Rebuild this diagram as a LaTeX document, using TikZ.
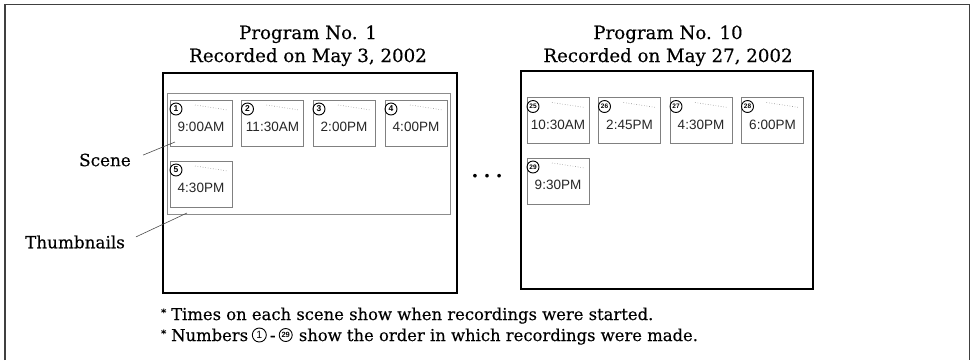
\documentclass[tikz,border=0pt]{standalone}
\usepackage{fontspec}
\setmainfont{DejaVu Serif}[UprightFeatures={FakeBold=0.35}]
\newfontfamily\thumbfont{Liberation Sans}
\begin{document}
\begin{tikzpicture}[x=1pt,y=-1pt,
 frame/.style={draw=black!75,line width=1.6pt},
 progbox/.style={draw=black,line width=1.3pt},
 innerbox/.style={draw=black!45,line width=1pt},
 thumb/.style={draw=black!50,line width=0.9pt,minimum width=62pt,minimum height=46pt,inner sep=0pt},
 timetxt/.style={font=\thumbfont\fontsize{13.5}{14}\selectfont,text=black!85,inner sep=0pt},
 numc/.style={circle,draw=black,line width=0.9pt,minimum size=12pt,inner sep=0pt,font=\thumbfont\bfseries\fontsize{8.5}{8.5}\selectfont},
 numcc/.style={numc,font=\thumbfont\bfseries\fontsize{6.5}{6.5}\selectfont},
 scenedots/.style={draw=black!45,dotted,line width=0.6pt},
 titletxt/.style={font=\fontsize{18.2}{21}\selectfont,anchor=base,inner sep=0pt},
 sidelabel/.style={font=\fontsize{16.8}{20}\selectfont,inner sep=0pt},
 foot/.style={font=\fontsize{16.4}{20}\selectfont,anchor=base west,inner sep=0pt},
 leader/.style={draw=black!70,line width=0.6pt},
 footc/.style={circle,draw=black,line width=0.9pt,minimum size=14pt,inner sep=0pt,font=\thumbfont\fontsize{10.5}{10.5}\selectfont},
 footcc/.style={footc,minimum size=13pt,font=\thumbfont\bfseries\fontsize{7.5}{7.5}\selectfont}
]
\newcommand\thumbbox[6]{%
 \node[thumb] (#1) at (#2,#3) {};
 \node[#5] (#1n) at (#2-25,#3-14) {#4};
 \node[timetxt] (#1t) at (#2,#3+4) {#6};
 \draw[scenedots] (#2-6,#3-18) -- (#2+27,#3-13);
}
\newcommand\fstar{\raisebox{4pt}{\fontsize{10}{10}\selectfont *}}
\useasboundingbox (0,0) rectangle (971,360);
\draw[frame] (5,360) -- (5,4.5) -- (969.5,4.5) -- (969.5,360);

% Program 1
\node[titletxt] (p1a) at (308,39) {Program No. 1};
\node[titletxt] (p1b) at (308,62) {Recorded on May 3, 2002};
\draw[progbox] (163,73) rectangle (457,293);
\draw[innerbox] (167,93) rectangle (450,214);
\thumbbox{t1}{201}{123}{1}{numc}{9:00AM}
\thumbbox{t2}{272.5}{123}{2}{numc}{11:30AM}
\thumbbox{t3}{344}{123}{3}{numc}{2:00PM}
\thumbbox{t4}{416}{123}{4}{numc}{4:00PM}
\thumbbox{t5}{201}{184}{5}{numc}{4:30PM}

% labels
\node[sidelabel] (scene) at (105,160) {Scene};
\node[sidelabel] (thumbs) at (75,242) {Thumbnails};
\coordinate (sceneTip) at (175,142);
\coordinate (thumbTip) at (187,213);
\draw[leader,shorten <=13pt] (scene.east) -- (sceneTip);
\draw[leader,shorten <=12pt] (thumbs.east) -- (thumbTip);

% dots
\node[font=\fontsize{12}{12}\selectfont,inner sep=0pt] (dots) at (487,177) {•\hspace{5pt}•\hspace{5pt}•};

% Program 10
\node[titletxt] (p10a) at (668,39) {Program No. 10};
\node[titletxt] (p10b) at (668,62) {Recorded on May 27, 2002};
\draw[progbox] (521,71) rectangle (813,289);
\thumbbox{t25}{558}{120.5}{25}{numcc}{10:30AM}
\thumbbox{t26}{629.5}{120.5}{26}{numcc}{2:45PM}
\thumbbox{t27}{701}{120.5}{27}{numcc}{4:30PM}
\thumbbox{t28}{772.5}{120.5}{28}{numcc}{6:00PM}
\thumbbox{t29}{558}{181}{29}{numcc}{9:30PM}

% footnotes
\node[foot] (f1) at (161,320) {\fstar\hspace{5pt}Times on each scene show when recordings were started.};
\node[foot] (f2a) at (161,341) {\fstar\hspace{5pt}Numbers};
\path (f2a.base east) ++(11,-6) node[footc] (c1) {1};
\node[foot] (dash) at ([xshift=3pt]c1.east |- f2a.base) {-};
\path (dash.base east) ++(10,-6) node[footcc] (c29) {29};
\node[foot] (f2b) at ([xshift=6pt]c29.east |- f2a.base) {show the order in which recordings were made.};
\end{tikzpicture}
\end{document}
